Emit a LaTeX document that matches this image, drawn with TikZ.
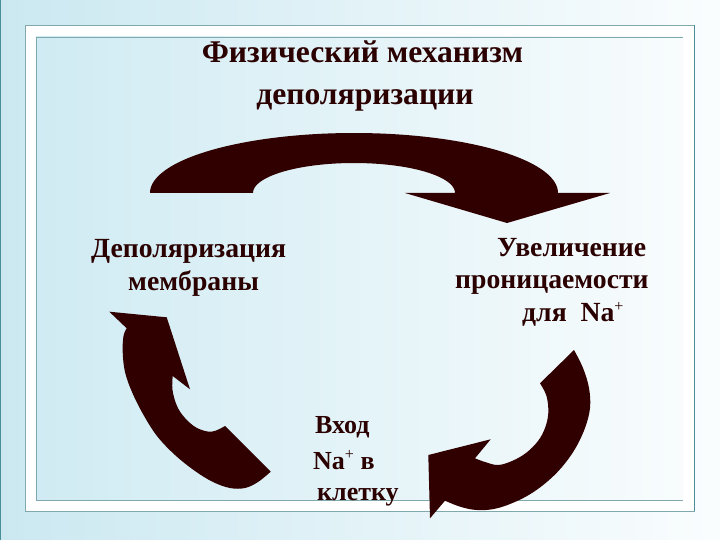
\documentclass[tikz,border=0pt]{standalone}
\usepackage{fontspec}
\setmainfont{Liberation Serif}
\definecolor{txt}{HTML}{2A0000}
\definecolor{arr}{HTML}{300000}
\definecolor{bgl}{HTML}{CBE8F1}
\definecolor{bgr}{HTML}{FAFDFE}
\definecolor{inl}{HTML}{D0EBF3}
\definecolor{inr}{HTML}{F8FCFD}
\definecolor{edge}{HTML}{7FA9AD}
\definecolor{edged}{HTML}{4A8F96}
\newcommand{\plussup}{\raisebox{0.38em}{\fontsize{16}{16}\selectfont\mdseries +}}
\begin{document}
\begin{tikzpicture}[x=1pt,y=-1pt,
  arrowshape/.style={fill=arr,draw=none},
  titletext/.style={anchor=base,inner sep=0pt,text=txt,font=\fontsize{31.6}{32}\selectfont\bfseries},
  labeltext/.style={anchor=base west,inner sep=0pt,text=txt,font=\fontsize{27.7}{28}\selectfont\bfseries},
  bottomtext/.style={anchor=base west,inner sep=0pt,text=txt,font=\fontsize{26}{26}\selectfont\bfseries}]
\useasboundingbox (0,0) rectangle (720,540);
% backgrounds
\shade[left color=bgl,right color=bgr] (0,0) rectangle (720,540);
\draw[edged,line width=1pt] (0.5,0) -- (0.5,540);
\filldraw[fill=white,draw=edge,line width=0.8pt] (25,25) rectangle (694,511);
\draw[edged,line width=1pt] (694,25) -- (694,511);
\shade[left color=inl,right color=inr] (36,37) rectangle (683,500);
\draw[edge,line width=0.8pt] (683,37) -- (36,37) -- (36,500) -- (683,500);
% title
\node[titletext] (t1) at (362.5,63) {Физический механизм};
\node[titletext] (t2) at (365,105) {деполяризации};
% labels
\node[labeltext] (l1) at (91,258) {Деполяризация};
\node[labeltext] (l2) at (128,290) {мембраны};
\node[labeltext] (r1) at (497,256.7) {Увеличение};
\node[labeltext] (r2) at (455,288.3) {проницаемости};
\node[labeltext] (r3) at (522,321.7) {для\ \ Na\plussup};
\node[bottomtext] (b1) at (315,433) {Вход};
\node[bottomtext] (b2) at (313,469) {Na\plussup\ в};
\node[bottomtext] (b3) at (317,500) {клетку};
% top arrow
\fill[arrowshape] plot[domain=180:0,samples=90] ({354+204*cos(\x)},{193-60*sin(\x)})
  -- (610,193) -- (507,223) -- (405,193) -- (455,193)
  -- plot[domain=0:180,samples=90] ({354+101*cos(\x)},{193-30*sin(\x)}) -- cycle;
% left arrow
\fill[arrowshape] (109.3,311.7) -- (166.7,317.3) -- (190,389.3) -- (172.7,376)
  -- plot[smooth,tension=0.6] coordinates {(172.7,376) (172.5,390) (177,406) (185,418) (197,428) (211.7,431.7) (225,426)}
  -- (270.7,471.7)
  -- plot[smooth,tension=0.6] coordinates {(270.7,471.7) (258,482) (245,488) (230,488) (213,482) (195,471) (175,455) (157,436) (143,414) (132,392) (125,372) (122.7,352) (123.5,336) (126.7,328.3)}
  -- cycle;
% right arrow
\fill[arrowshape] (574,350) -- (540,383.3)
  -- plot[smooth,tension=0.6] coordinates {(540,383.3) (546.5,396) (548.3,413) (545,428) (538,441) (526,453) (512,461) (498,465) (485,462) (475,458.3)}
  -- (490.7,439.3) -- (428.3,455) -- (430,518.3) -- (445,500.7)
  -- plot[smooth,tension=0.6] coordinates {(445,500.7) (458,506) (472,509.5) (486,510) (500,507.5) (516,501.5) (532,493) (548,481) (562,467) (575,449) (585,428) (590,408) (589,388) (583,368) (574,350)}
  -- cycle;
\end{tikzpicture}
\end{document}
